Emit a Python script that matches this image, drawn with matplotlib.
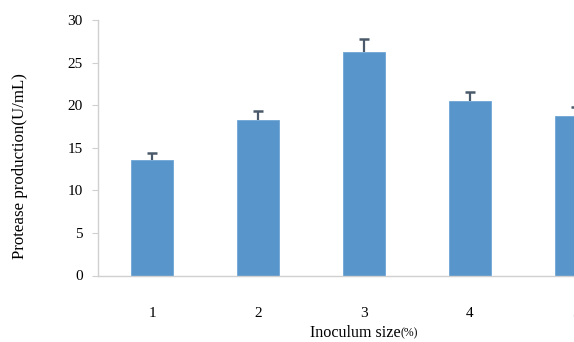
import numpy as np
import matplotlib
matplotlib.use("Agg")
from matplotlib import pyplot as plt

# data
sizes = ["1", "2", "3", "4", "5"]
protease = [13.6, 18.3, 26.3, 20.5, 18.7]
errors = [0.75, 1.05, 1.45, 1.05, 1.1]
y_ticks = [0, 5, 10, 15, 20, 25, 30]

plt.rcParams['font.family'] = ['Liberation Serif', 'DejaVu Serif']

fig = plt.figure(figsize=(5.74, 3.42), dpi=100)
# axes runs past the right edge (the original figure is cropped there)
ax = fig.add_axes([98 / 574, 1 - 275.5 / 342, 532 / 574, 255.5 / 342])

x = np.arange(1, len(sizes) + 1)
tops = np.array(protease) + np.array(errors)

ax.bar(x, protease, width=0.4, color="#5795CB", edgecolor="#6FA6D6", linewidth=0.6, zorder=2)
# upper half of error bars only, no cap at the bar top
ax.errorbar(x, protease, yerr=[np.zeros(len(errors)), errors], fmt="none",
            ecolor="#4a5a6a", elinewidth=1.6, capsize=0, zorder=3)
ax.plot(x, tops, linestyle="none", marker="_", markersize=7, mew=1.8, color="#4a5a6a", zorder=3)

ax.set_xlim(0.49, 5.51)
ax.set_ylim(0, 30)
ax.set_yticks(y_ticks)
ax.set_xticks(x)
ax.set_xticklabels(sizes)

for side in ["top", "right"]:
    ax.spines[side].set_visible(False)
for side in ["left", "bottom"]:
    ax.spines[side].set_color("#d0d0d0")
    ax.spines[side].set_linewidth(1.0)

ax.tick_params(axis="y", length=4, color="#d0d0d0", labelsize=11, pad=7)
ax.tick_params(axis="x", length=0, labelsize=11, pad=23)

fig.text(20 / 574, 0.515, "Protease production(U/mL)", fontsize=12.2, rotation=90,
         ha="center", va="center")
fig.text(0.698, 0.016, "Inoculum size", fontsize=11.6, ha="right", va="baseline")
fig.text(0.698, 0.016, "(%)", fontsize=8.5, ha="left", va="baseline")

fig.savefig("out.png", dpi=100)
